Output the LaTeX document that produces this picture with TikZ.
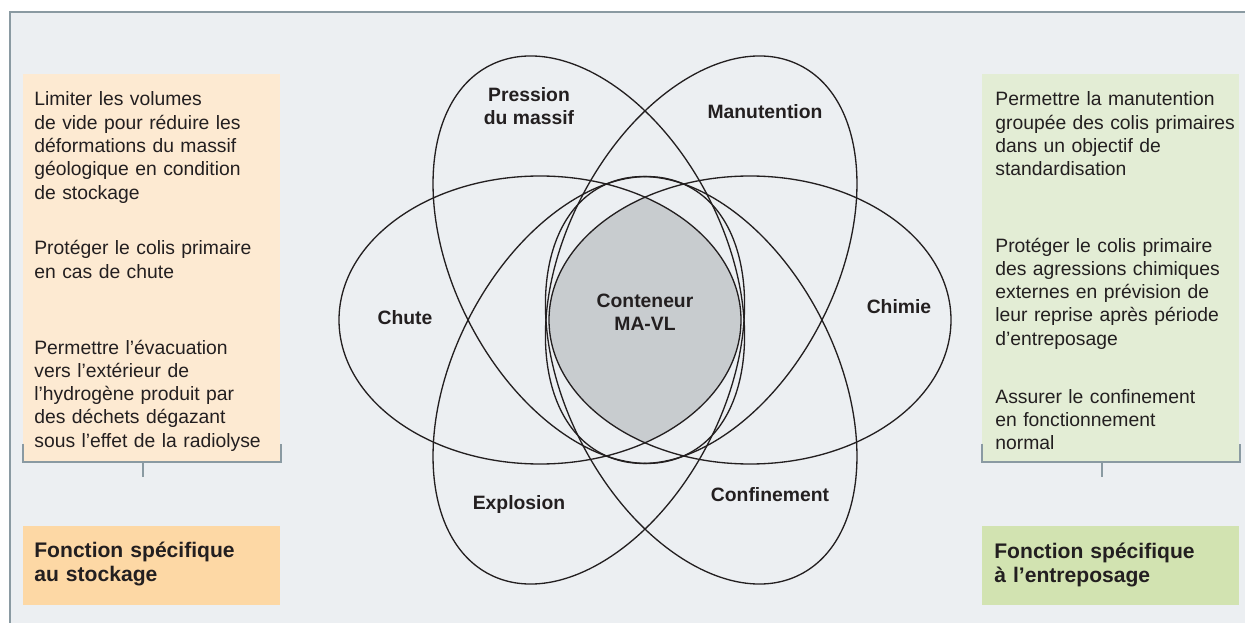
\documentclass[tikz,border=0pt]{standalone}
\usepackage{fontspec}
\setmainfont{Liberation Sans}
\usetikzlibrary{positioning, calc}
\definecolor{PageBg}{HTML}{ECEFF2}
\definecolor{FrameGray}{HTML}{8A9AA2}
\definecolor{InkDark}{HTML}{231F20}
\definecolor{SoftPeach}{HTML}{FDEAD2}
\definecolor{DeepPeach}{HTML}{FDD8A5}
\definecolor{SoftGreen}{HTML}{E3EDD5}
\definecolor{DeepGreen}{HTML}{D2E3B1}
\definecolor{CoreGray}{HTML}{C8CCCF}
\tikzset{
  panel/.style={anchor=north west, inner sep=0pt, minimum width=5.14cm, minimum height=7.74cm},
  titlebox/.style={anchor=north west, inner sep=0pt, minimum width=5.14cm, minimum height=1.58cm},
  paratext/.style={anchor=base west, inner sep=0pt, text width=5cm, align=left, text=InkDark, font=\fontsize{11}{13.25}\selectfont},
  titletext/.style={anchor=base west, inner sep=0pt, text width=5cm, align=left, text=InkDark, font=\fontsize{12}{14.2}\selectfont\bfseries},
  zonelabel/.style={align=center, inner sep=0pt, text=InkDark, font=\fontsize{11}{13.2}\selectfont\bfseries},
  ring/.style={draw=InkDark, line width=0.75pt},
  bracket/.style={draw=FrameGray, line width=1.1pt}
}

\begin{document}
\begin{tikzpicture}
\useasboundingbox (0,0) rectangle (24.9,12.46);
\fill[PageBg] (0.2,0) rectangle (24.9,12.22);
\draw[FrameGray, line width=0.7pt] (24.9,12.22) -- (0.2,12.22) -- (0.2,0);

% side panels
\node[panel, fill=SoftPeach] (lpanel) at (0.46,10.98) {};
\node[panel, fill=SoftGreen] (rpanel) at (19.64,10.98) {};
\node[titlebox, fill=DeepPeach] (ltitle) at (0.46,1.94) {};
\node[titlebox, fill=DeepGreen] (rtitle) at (19.64,1.94) {};

\node[paratext] (lpara1) at (0.68,10.34) {Limiter les volumes\\de vide pour réduire les\\déformations du massif\\géologique en condition\\de stockage};
\node[paratext] (lpara2) at (0.68,7.36) {Protéger le colis primaire\\en cas de chute};
\node[paratext] (lpara3) at (0.68,5.38) {Permettre l'évacuation\\vers l'extérieur de\\l'hydrogène produit par\\des déchets dégazant\\sous l'effet de la radiolyse};

\node[paratext] (rpara1) at (19.90,10.34) {Permettre la manutention\\groupée des colis primaires\\dans un objectif de\\standardisation};
\node[paratext] (rpara2) at (19.90,7.42) {Protéger le colis primaire\\des agressions chimiques\\externes en prévision de\\leur reprise après période\\d'entreposage};
\node[paratext] (rpara3) at (19.90,4.40) {Assurer le confinement\\en fonctionnement\\normal};

\node[titletext] (ltitletext) at (0.68,1.32) {Fonction spécifique\\au stockage};
\node[titletext] (rtitletext) at (19.88,1.30) {Fonction spécifique\\à l'entreposage};

% brackets
\draw[bracket] ([yshift=0.36cm]lpanel.south west) -- (lpanel.south west) -- (lpanel.south east) -- ++(0,0.36);
\draw[bracket] ([xshift=-0.17cm]lpanel.south) -- ++(0,-0.30);
\draw[bracket] ([yshift=0.36cm]rpanel.south west) -- (rpanel.south west) -- (rpanel.south east) -- ++(0,0.36);
\draw[bracket] ([xshift=-0.17cm]rpanel.south) -- ++(0,-0.30);

% flower of ellipses
\coordinate (core) at (12.90,6.06);
\coordinate (cchute) at ($(core)+(-2.10,0)$);
\coordinate (cchimie) at ($(core)+(2.10,0)$);
\coordinate (cpress) at ($(core)+(-1.124,1.206)$);
\coordinate (cmanut) at ($(core)+(1.124,1.206)$);
\coordinate (cexplo) at ($(core)+(-1.124,-1.206)$);
\coordinate (cconf) at ($(core)+(1.124,-1.206)$);

\begin{scope}
  \clip (cchute) ellipse [x radius=4.02, y radius=2.88];
  \clip (cchimie) ellipse [x radius=4.02, y radius=2.88];
  \fill[CoreGray] (core) circle (3);
\end{scope}

\foreach \c/\r/\w/\h in {cchute/0/4.02/2.88, cchimie/0/4.02/2.88, cpress/117/4.36/2.70, cmanut/63/4.36/2.70, cexplo/63/4.36/2.70, cconf/117/4.36/2.70}
  \draw[ring, rotate around={\r:(\c)}] (\c) ellipse [x radius=\w, y radius=\h];

\node[zonelabel] (pression) at (10.58,10.34) {Pression\\du massif};
\node[zonelabel] (manut) at (15.30,10.22) {Manutention};
\node[zonelabel] (chute) at (8.10,6.10) {Chute};
\node[zonelabel] (conteneur) at (12.90,6.22) {Conteneur\\MA-VL};
\node[zonelabel] (chimie) at (17.98,6.32) {Chimie};
\node[zonelabel] (explosion) at (10.38,2.36) {Explosion};
\node[zonelabel] (confinement) at (15.40,2.56) {Confinement};
\end{tikzpicture}
\end{document}
